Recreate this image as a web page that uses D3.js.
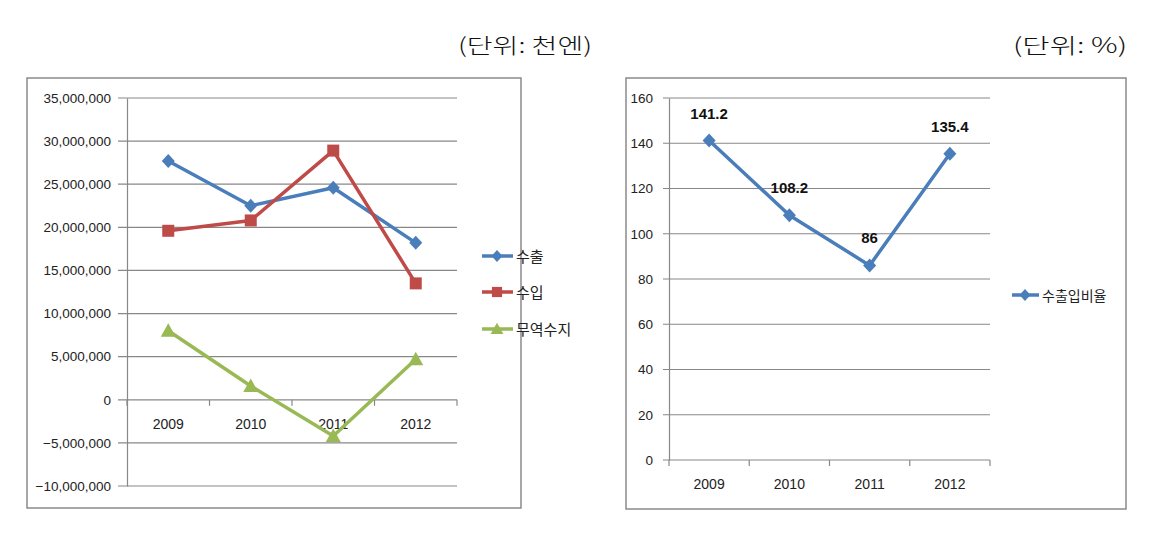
<!DOCTYPE html>
<html><head><meta charset="utf-8">
<script src="https://cdn.jsdelivr.net/npm/d3@7"></script>
<style>body{margin:0;background:#fff;} svg{display:block;}</style>
</head><body>
<svg id="c" width="1172" height="535"></svg>
<script>
const years = ["2009","2010","2011","2012"];
const exportVals = [27700000, 22500000, 24600000, 18200000];
const importVals = [19600000, 20800000, 28900000, 13500000];
const balanceVals = [8000000, 1600000, -4200000, 4700000];
const leftTicks = [35000000,30000000,25000000,20000000,15000000,10000000,5000000,0,-5000000,-10000000];
const ratioVals = [141.2, 108.2, 86, 135.4];
const rightTicks = [0,20,40,60,80,100,120,140,160];
const leftSeries = [
  {name:"수출", values: exportVals, color:"#4A7EBB", marker:"diamond"},
  {name:"수입", values: importVals, color:"#BE4B48", marker:"square"},
  {name:"무역수지", values: balanceVals, color:"#98B954", marker:"triangle"}
];
const leftUnit = "(단위: 천엔)";
const rightUnit = "(단위: %)";
const ratioName = "수출입비율";

const svg = d3.select("#c");
const gridColor = "#888888";
const tickFont = "'Liberation Sans', Arial, sans-serif";
const korFont = "'Noto Sans CJK KR', sans-serif";

function markerPath(type){
  if(type==="diamond") return "M0,-7L6.5,0L0,7L-6.5,0Z";
  if(type==="square") return d3.symbol(d3.symbolSquare, 144)();
  return "M0,-7.5L7.5,6L-7.5,6Z";
}

// ---- frames ----
svg.append("rect").attr("x",27).attr("y",78).attr("width",494).attr("height",430)
  .attr("fill","#fff").attr("stroke","#8a8a8a").attr("stroke-width",1.5);
svg.append("rect").attr("x",626).attr("y",78).attr("width",500).attr("height",431)
  .attr("fill","#fff").attr("stroke","#8a8a8a").attr("stroke-width",1.5);

// unit titles
svg.append("text").attr("x",458).attr("y",53)
  .attr("textLength",134).attr("lengthAdjust","spacingAndGlyphs")
  .attr("font-family",korFont).attr("font-size",21).attr("font-weight",300).attr("fill","#111").text(leftUnit);
svg.append("text").attr("x",1013).attr("y",53)
  .attr("textLength",114).attr("lengthAdjust","spacingAndGlyphs")
  .attr("font-family",korFont).attr("font-size",21).attr("font-weight",300).attr("fill","#111").text(rightUnit);

// ---- left chart ----
{
  const x = d3.scaleBand().domain(years).range([127,457]);
  const y = d3.scaleLinear().domain([-10000000,35000000]).range([486,98]);
  const g = svg.append("g");
  g.selectAll(".grid").data(leftTicks).join("line")
    .attr("x1",118).attr("x2",457).attr("y1",d=>y(d)).attr("y2",d=>y(d))
    .attr("stroke",gridColor).attr("stroke-width",1.2);
  const ya = d3.axisLeft(y).tickValues(leftTicks).tickSize(0).tickPadding(16)
    .tickFormat(d3.format(","));
  const yg = g.append("g").attr("transform","translate(127,0)").call(ya);
  yg.select(".domain").attr("stroke",gridColor).attr("stroke-width",1.2);
  yg.selectAll("text").attr("font-family",tickFont).attr("font-size",13.5).attr("fill","#222");
  const xa = d3.axisBottom(x).tickSize(0).tickPadding(19);
  const xg = g.append("g").attr("transform",`translate(0,${y(0)})`).call(xa);
  xg.select(".domain").remove();
  xg.selectAll("text").attr("font-family",tickFont).attr("font-size",14).attr("fill","#222");
  g.selectAll(".xt").data(d3.range(years.length+1)).join("line")
    .attr("x1",i=>127+i*x.step()).attr("x2",i=>127+i*x.step())
    .attr("y1",y(0)).attr("y2",y(0)+6).attr("stroke",gridColor).attr("stroke-width",1.2);
  const cx = d=>x(d)+x.bandwidth()/2;
  leftSeries.forEach(s=>{
    const pts = years.map((yr,i)=>[cx(yr), y(s.values[i])]);
    g.append("path").attr("d",d3.line()(pts)).attr("fill","none")
      .attr("stroke",s.color).attr("stroke-width",3.5).attr("stroke-linejoin","round");
    g.selectAll(null).data(pts).join("path")
      .attr("d",markerPath(s.marker))
      .attr("transform",p=>`translate(${p[0]},${p[1]})`).attr("fill",s.color);
  });
  const ly = [256,292,329];
  leftSeries.forEach((s,i)=>{
    const lg = svg.append("g").attr("transform",`translate(0,${ly[i]})`);
    lg.append("line").attr("x1",482).attr("x2",513).attr("y1",0).attr("y2",0)
      .attr("stroke",s.color).attr("stroke-width",3.5);
    lg.append("path").attr("d",markerPath(s.marker))
      .attr("transform","translate(497,0) scale(0.85)").attr("fill",s.color);
    lg.append("text").attr("x",516).attr("y",6).attr("font-family",korFont)
      .attr("font-size",15).attr("fill","#222").text(s.name);
  });
}

// ---- right chart ----
{
  const x = d3.scaleBand().domain(years).range([669,990]);
  const y = d3.scaleLinear().domain([0,160]).range([460,98]);
  const g = svg.append("g");
  g.selectAll(".grid").data(rightTicks).join("line")
    .attr("x1",663).attr("x2",990).attr("y1",d=>y(d)).attr("y2",d=>y(d))
    .attr("stroke",gridColor).attr("stroke-width",1.2);
  const ya = d3.axisLeft(y).tickValues(rightTicks).tickSize(0).tickPadding(16);
  const yg = g.append("g").attr("transform","translate(669,0)").call(ya);
  yg.select(".domain").attr("stroke",gridColor).attr("stroke-width",1.2);
  yg.selectAll("text").attr("font-family",tickFont).attr("font-size",13.5).attr("fill","#222");
  const xa = d3.axisBottom(x).tickSize(0).tickPadding(19);
  const xg = g.append("g").attr("transform",`translate(0,${y(0)})`).call(xa);
  xg.select(".domain").remove();
  xg.selectAll("text").attr("font-family",tickFont).attr("font-size",14).attr("fill","#222");
  g.selectAll(".xt").data(d3.range(years.length+1)).join("line")
    .attr("x1",i=>669+i*x.step()).attr("x2",i=>669+i*x.step())
    .attr("y1",y(0)).attr("y2",y(0)+6).attr("stroke",gridColor).attr("stroke-width",1.2);
  const cx = d=>x(d)+x.bandwidth()/2;
  const pts = years.map((yr,i)=>[cx(yr), y(ratioVals[i])]);
  g.append("path").attr("d",d3.line()(pts)).attr("fill","none")
    .attr("stroke","#4A7EBB").attr("stroke-width",3.5).attr("stroke-linejoin","round");
  g.selectAll(null).data(pts).join("path").attr("d",markerPath("diamond"))
    .attr("transform",p=>`translate(${p[0]},${p[1]})`).attr("fill","#4A7EBB");
  g.selectAll(null).data(years).join("text")
    .attr("x",d=>cx(d)).attr("y",(d,i)=>y(ratioVals[i])-22)
    .attr("text-anchor","middle").attr("font-family",tickFont).attr("font-weight","bold")
    .attr("font-size",15).attr("fill","#111").text((d,i)=>ratioVals[i]);
  const lg = svg.append("g").attr("transform","translate(0,295)");
  lg.append("line").attr("x1",1012).attr("x2",1039).attr("y1",0).attr("y2",0)
    .attr("stroke","#4A7EBB").attr("stroke-width",3.5);
  lg.append("path").attr("d",markerPath("diamond")).attr("transform","translate(1025,0) scale(0.85)").attr("fill","#4A7EBB");
  lg.append("text").attr("x",1042).attr("y",6).attr("font-family",korFont)
    .attr("font-size",14).attr("fill","#222").text(ratioName);
}
</script>
</body></html>
